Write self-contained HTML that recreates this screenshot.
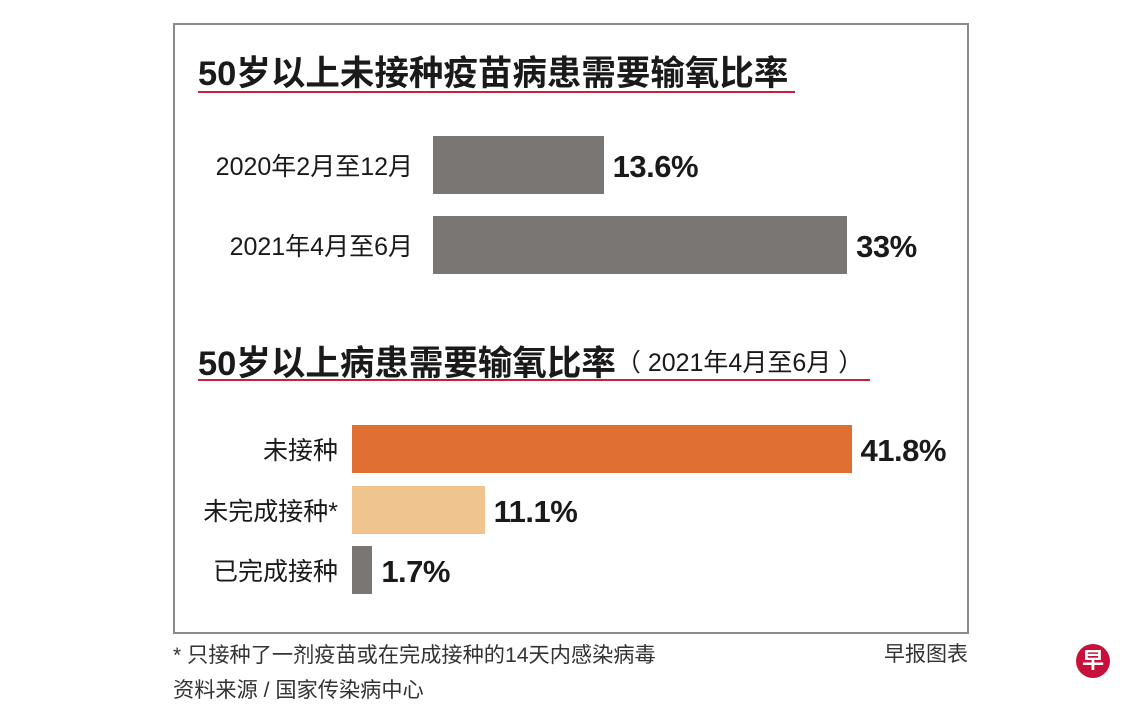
<!DOCTYPE html>
<html><head><meta charset="utf-8">
<style>
body{margin:0;width:1140px;height:712px;background:#fff;position:relative;overflow:hidden;font-family:"Liberation Sans","Noto Sans CJK SC",sans-serif;color:#1a1a1a}
.a{position:absolute;white-space:nowrap}
.t{font-weight:bold;font-size:34.5px;color:#1a1a1a}
.lab{font-size:25px;text-align:right}
.val{font-weight:bold;font-size:31px;letter-spacing:-0.5px}
.ft{font-size:21.2px;color:#333}
</style></head><body>
<div class="a" style="left:173px;top:23px;width:792px;height:607px;border:2px solid #8a8a8a"></div>
<div class="a t" style="left:198px;top:45px">50岁以上未接种疫苗病患需要输氧比率</div>
<div class="a" style="left:198px;top:91px;width:597px;height:2px;background:#c8203c"></div>
<div class="a t" style="left:198px;top:335px">50岁以上病患需要输氧比率<span style="font-weight:normal;font-size:25px;position:relative;top:-4px">（ 2021年4月至6月 ）</span></div>
<div class="a" style="left:198px;top:379px;width:672px;height:2px;background:#c8203c"></div>
<div id="c1"></div><div id="c2"></div>
<div class="a ft" style="left:173px;top:638px">* 只接种了一剂疫苗或在完成接种的14天内感染病毒</div>
<div class="a ft" style="left:173px;top:673px">资料来源 / 国家传染病中心</div>
<div class="a ft" style="left:884px;top:638px;font-size:21px">早报图表</div>
<div class="a" style="left:1076px;top:644px;width:34px;height:34px;border-radius:50%;background:#c8103c;color:#fff;font-size:22px;font-weight:bold;text-align:center;line-height:34px">早</div>
<script>
const cats1=["2020年2月至12月","2021年4月至6月"];
const vals1=[13.6,33];
const labels1=["13.6%","33%"];
const cats2=["未接种","未完成接种*","已完成接种"];
const vals2=[41.8,11.1,1.7];
const labels2=["41.8%","11.1%","1.7%"];
const colors2=["#e07032","#efc48f","#7a7674"];
function draw(host,cats,vals,labels,colors,x0,scale,y0,h,step,labRight,nm){
  cats.forEach((c,i)=>{
    const y=y0+i*step,w=vals[i]*scale;
    const b=document.createElement('div');b.className='a';
    
    
    b.style.cssText=`left:${x0}px;top:${y}px;width:${w}px;height:${h}px;background:${colors[i]}`;
    host.appendChild(b);
    const l=document.createElement('div');l.className='a lab';
    
    
    l.textContent=c;l.style.cssText=`right:${1140-labRight}px;top:${y+h/2-18}px`;
    host.appendChild(l);
    const v=document.createElement('div');v.className='a val';
    
    
    v.textContent=labels[i];v.style.cssText=`left:${x0+w+9}px;top:${y+h/2-16}px`;
    host.appendChild(v);
  });
}
draw(document.getElementById('c1'),cats1,vals1,labels1,["#7a7674","#7a7674"],433,12.55,136,58,80,413,'period');
draw(document.getElementById('c2'),cats2,vals2,labels2,colors2,352,11.95,425,48,60.5,338,'status');
</script>
</body></html>
